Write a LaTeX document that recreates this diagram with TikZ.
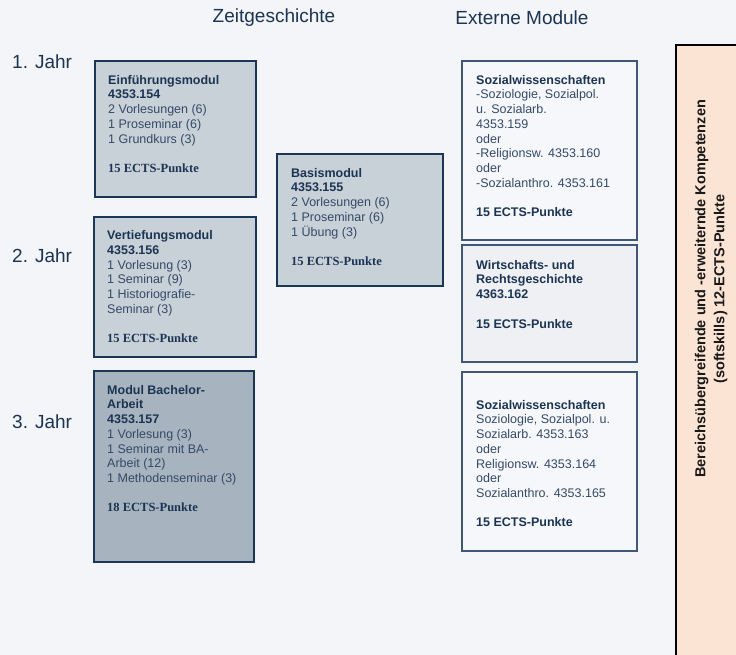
\documentclass[tikz,border=0pt]{standalone}
\usepackage{fontspec}
\setmainfont{Liberation Sans}
\newfontfamily\ectsserif{Liberation Serif}
\usepackage{xcolor}
\usetikzlibrary{positioning,calc}
\definecolor{bgpaper}{RGB}{243,245,248}
\definecolor{boxborder}{RGB}{27,55,88}
\definecolor{extborder}{RGB}{62,88,117}
\definecolor{zeitfill}{RGB}{200,208,216}
\definecolor{bachfill}{RGB}{167,179,191}
\definecolor{extfill}{RGB}{246,247,250}
\definecolor{wirtfill}{RGB}{238,240,243}
\definecolor{softfill}{RGB}{252,228,212}
\definecolor{textdark}{RGB}{27,52,82}
\definecolor{textbody}{RGB}{52,74,102}
\newcommand{\modhead}[1]{{\bfseries\color{textdark}#1}}
\newcommand{\ectsline}[1]{{\ectsserif\bfseries\color{textdark}#1}}

\tikzset{
  modbox/.style={draw=boxborder, line width=1.5pt, fill=zeitfill, anchor=north west, inner sep=0pt, outer sep=0pt},
  extbox/.style={draw=extborder, line width=1.5pt, fill=extfill, anchor=north west, inner sep=0pt, outer sep=0pt},
  boxtext/.style={anchor=north west, inner sep=0pt, align=left, text=textbody, font=\fontsize{12.5}{14.7}\selectfont},
  heading/.style={text=textdark, font=\fontsize{19}{22}\selectfont, inner sep=0pt}
}

\begin{document}
\begin{tikzpicture}[x=1pt,y=-1pt]
    \useasboundingbox (0,0) rectangle (736,655);
    \clip (0,0) rectangle (736,655);
    \fill[bgpaper] (0,0) rectangle (736,655);

    % Column headings
    \node[heading] (zeit) at (274,18) {Zeitgeschichte};
    \node[heading] (extern) at (522,18) {Externe Module};

    % Years
    \node[heading, anchor=west] (jahr1) at (12,62) {1. Jahr};
    \node[heading, anchor=west] (jahr2) at (12,256) {2. Jahr};
    \node[heading, anchor=west] (jahr3) at (12,422) {3. Jahr};

    % Zeitgeschichte
    \node[modbox, minimum width=161, minimum height=136] (einf) at (95,61) {};
    \node[boxtext] (einf-txt) at ([xshift=13pt,yshift=-14pt]einf.north west)
      {\modhead{Einführungsmodul}\\ \modhead{4353.154}\\ 2 Vorlesungen (6)\\ 1 Proseminar (6)\\ 1 Grundkurs (3)\\[14.7pt] \ectsline{15 ECTS-Punkte}};

    \node[modbox, minimum width=162, minimum height=140] (vert) at (94,217) {};
    \node[boxtext] (vert-txt) at ([xshift=13pt,yshift=-13.5pt]vert.north west)
      {\modhead{Vertiefungsmodul}\\ \modhead{4353.156}\\ 1 Vorlesung (3)\\ 1 Seminar (9)\\ 1 Historiografie-\\ Seminar (3)\\[14.7pt] \ectsline{15 ECTS-Punkte}};

    \node[modbox, fill=bachfill, minimum width=160, minimum height=191] (bach) at (94,371) {};
    \node[boxtext] (bach-txt) at ([xshift=13pt,yshift=-14pt]bach.north west)
      {\modhead{Modul Bachelor-}\\ \modhead{Arbeit}\\ \modhead{4353.157}\\ 1 Vorlesung (3)\\ 1 Seminar mit BA-\\ Arbeit (12)\\ 1 Methodenseminar (3)\\[14.7pt] \ectsline{18 ECTS-Punkte}};

    \node[modbox, minimum width=166, minimum height=132] (basis) at (277,154) {};
    \node[boxtext] (basis-txt) at ([xshift=14pt,yshift=-14pt]basis.north west)
      {\modhead{Basismodul}\\ \modhead{4353.155}\\ 2 Vorlesungen (6)\\ 1 Proseminar (6)\\ 1 Übung (3)\\[14.7pt] \ectsline{15 ECTS-Punkte}};

    % Externe Module
    \node[extbox, minimum width=175, minimum height=179] (soz1) at (462,61) {};
    \node[boxtext] (soz1-txt) at ([xshift=14pt,yshift=-14pt]soz1.north west)
      {\modhead{Sozialwissenschaften}\\ -Soziologie, Sozialpol.\\ u. Sozialarb.\\ 4353.159\\ oder\\ -Religionsw. 4353.160\\ oder\\ -Sozialanthro. 4353.161\\[14.7pt] \modhead{15 ECTS-Punkte}};

    \node[extbox, fill=wirtfill, minimum width=175, minimum height=117] (wirt) at (462,245) {};
    \node[boxtext] (wirt-txt) at ([xshift=14pt,yshift=-15pt]wirt.north west)
      {\modhead{Wirtschafts- und}\\ \modhead{Rechtsgeschichte}\\ \modhead{4363.162}\\[14.7pt] \modhead{15 ECTS-Punkte}};

    \node[extbox, minimum width=175, minimum height=179] (soz2) at (462,372) {};
    \node[boxtext] (soz2-txt) at ([xshift=14pt,yshift=-28pt]soz2.north west)
      {\modhead{Sozialwissenschaften}\\ Soziologie, Sozialpol. u.\\ Sozialarb. 4353.163\\ oder\\ Religionsw. 4353.164\\ oder\\ Sozialanthro. 4353.165\\[14.7pt] \modhead{15 ECTS-Punkte}};

    % Softskills
    \node[draw=black, line width=1.3pt, fill=softfill, anchor=north west, inner sep=0pt, outer sep=0pt,
          minimum width=90, minimum height=640] (soft) at (676,45) {};
    \node[rotate=90, align=center, inner sep=0pt, text=black!90,
          font=\fontsize{14.5}{19}\selectfont\bfseries] (soft-txt) at (711,289)
      {Bereichsübergreifende und -erweiternde Kompetenzen\\ (softskills) 12-ECTS-Punkte};
\end{tikzpicture}
\end{document}
